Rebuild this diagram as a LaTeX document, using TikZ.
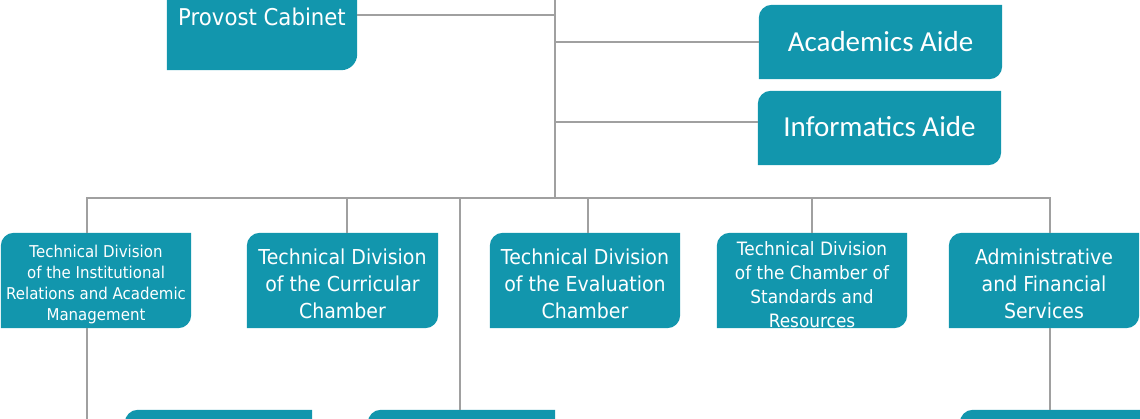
\documentclass[tikz,border=0pt]{standalone}
\usepackage{fontspec}
\setmainfont{Liberation Sans}
\newfontfamily\tahfont[FakeStretch=0.92]{DejaVu Sans}
\newfontfamily\calfont{Carlito}
\usetikzlibrary{backgrounds,calc}
\definecolor{boxteal}{RGB}{18,150,173}
\definecolor{linegrey}{RGB}{160,160,160}
\newcommand\tealshape[2]{%
  \fill[boxteal] let \p1=(#1.south west), \p2=(#1.north east) in
    (\x1,\y1) -- (\x1,\y2-#2) arc[start angle=180,end angle=90,radius=#2]
    -- (\x2,\y2) -- (\x2,\y1+#2) arc[start angle=0,end angle=-90,radius=#2] -- cycle;}
\newcommand\topstrut[1]{\rule{0pt}{#1}}
\newcommand\botstrut[1]{\rule[-#1]{0pt}{#1}}
\begin{document}
\begin{tikzpicture}[x=1pt,y=1pt,
  box/.style={inner sep=0pt, text=white, align=center},
  big/.style={font=\tahfont\fontsize{20.6}{27}\selectfont},
  small/.style={font=\tahfont\fontsize{16.3}{21}\selectfont},
  conn/.style={draw=linegrey, line width=2.5pt}]
\useasboundingbox (0,0) rectangle (1140,418);
\clip (0,0) rectangle (1140,418);
% nodes
\node[box,minimum width=190pt,minimum height=110pt,font=\tahfont\fontsize{23.1}{27}\selectfont] (prov) at (262,403) {\topstrut{21.6pt}Provost Cabinet};
\node[box,minimum width=243pt,minimum height=74pt,font=\calfont\fontsize{29}{33}\selectfont] (acad) at (880.5,376) {Academics Aide};
\node[box,minimum width=243pt,minimum height=74pt,font=\calfont\fontsize{29}{33}\selectfont] (info) at (879.5,290) {Informatics Aide\botstrut{4pt}};
\node[box,small,minimum width=190pt,minimum height=95pt] (b1) at (96,137.5) {\topstrut{19.4pt}Technical Division\\of the Institutional\\Relations and Academic\\Management};
\node[box,big,minimum width=191pt,minimum height=95pt] (b2) at (342.5,137.5) {\topstrut{21.7pt}Technical Division\\of the Curricular\\Chamber};
\node[box,big,minimum width=190pt,minimum height=95pt] (b3) at (585,137.5) {\topstrut{21.7pt}Technical Division\\of the Evaluation\\Chamber};
\node[box,font=\tahfont\fontsize{18.4}{24}\selectfont,minimum width=190pt,minimum height=95pt] (b4) at (812,137.5) {\topstrut{22pt}Technical Division\\of the Chamber of\\Standards and\\Resources};
\node[box,big,minimum width=190pt,minimum height=95pt] (b5) at (1044,137.5) {\topstrut{21.7pt}Administrative\\and Financial\\Services};
\node[box,minimum width=187pt,minimum height=90pt] (b6) at (218.5,-37) {};
\node[box,minimum width=187pt,minimum height=90pt] (b7) at (461.5,-37) {};
\node[box,minimum width=200pt,minimum height=90pt] (b8) at (1060,-37) {};
% shapes
\begin{scope}[on background layer]
\tealshape{prov}{16pt}
\tealshape{acad}{13pt}
\tealshape{info}{13pt}
\tealshape{b1}{13pt}
\tealshape{b2}{13pt}
\tealshape{b3}{13pt}
\tealshape{b4}{13pt}
\tealshape{b5}{13pt}
\tealshape{b6}{13pt}
\tealshape{b7}{13pt}
\tealshape{b8}{13pt}
\end{scope}
% connector coordinates
\coordinate (mtop) at (555,428);
\coordinate (mbus) at (555,220);
\coordinate (ij) at (555,296);
\coordinate (d1) at (87,220);
\coordinate (d2) at (347,220);
\coordinate (d3) at (588,220);
\coordinate (d4) at (812,220);
\coordinate (d5) at (1050,220);
\coordinate (d6) at (460,220);
\coordinate (e1) at (87,-10);
% connectors
\draw[conn] (mtop) -- (mbus);
\draw[conn] (prov.east) -- (prov.east -| mtop);
\draw[conn] (acad.west -| mtop) -- (acad.west);
\draw[conn] (ij) -- (ij -| info.west);
\draw[conn] (d1 |- b1.north) -- (d1) -- (d5) -- (d5 |- b5.north);
\draw[conn] (d2) -- (d2 |- b2.north);
\draw[conn] (d3) -- (d3 |- b3.north);
\draw[conn] (d4) -- (d4 |- b4.north);
\draw[conn] (d6) -- (d6 |- b7.north);
\draw[conn] (d1 |- b1.south) -- (e1);
\draw[conn] (d5 |- b5.south) -- (d5 |- b8.north);
\end{tikzpicture}
\end{document}
